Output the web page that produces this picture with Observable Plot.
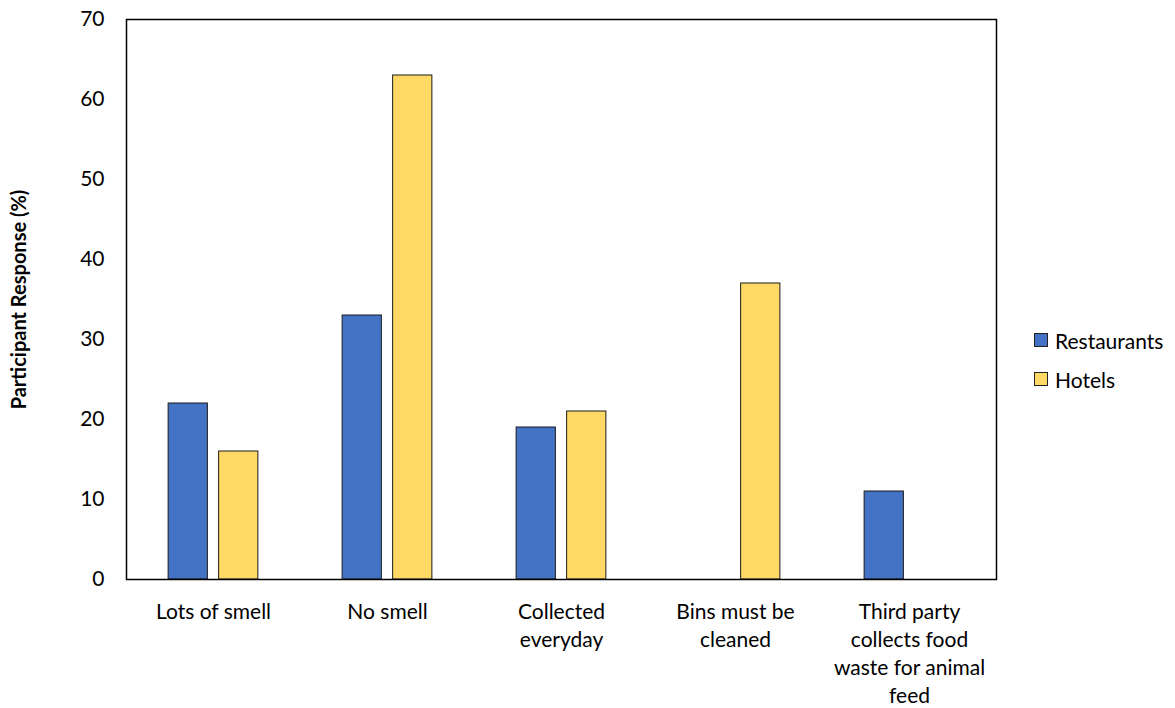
<!DOCTYPE html>
<html>
<head>
<meta charset="utf-8">
<script src="https://cdn.jsdelivr.net/npm/d3@7"></script>
<script src="https://cdn.jsdelivr.net/npm/@observablehq/plot@0.6"></script>
<style>
  html, body { margin: 0; padding: 0; background: #fff; }
  #wrap { position: relative; width: 1175px; height: 708px; font-family: Lato, "Liberation Sans", sans-serif; }
  #legend { position: absolute; left: 1034px; top: 326px; font-size: 21px; color: #000; }
  .item { display: flex; align-items: center; height: 28px; margin-bottom: 11px; }
  .sw { width: 12px; height: 12px; border: 1px solid #222; margin-right: 7px; }
</style>
</head>
<body>
<div id="wrap"><div id="legend"></div></div>
<script>
const categories = ["Lots of smell", "No smell", "Collected everyday", "Bins must be cleaned", "Third party collects food waste for animal feed"];
const tickLabels = ["Lots of smell", "No smell", "Collected\neveryday", "Bins must be\ncleaned", "Third party\ncollects food\nwaste for animal\nfeed"];
const series = ["Restaurants", "Hotels"];
const restaurants = [22, 33, 19, 0, 11];
const hotels = [16, 63, 21, 37, 0];
const colors = ["#4472C4", "#FFD966"];
const yTicks = [0, 10, 20, 30, 40, 50, 60, 70];
const yTitle = "Participant Response (%)";

const rows = categories.flatMap((c, i) => [
  {category: c, series: series[0], value: restaurants[i]},
  {category: c, series: series[1], value: hotels[i]}
]);

const chart = Plot.plot({
  width: 1175,
  height: 708,
  marginTop: 19,
  marginLeft: 124,
  marginRight: 177,
  marginBottom: 129,
  style: {fontFamily: "Lato, 'Liberation Sans', sans-serif", fontSize: "21px", color: "#000", background: "#fff"},
  fx: {domain: categories, padding: 0, label: null},
  x: {domain: series, paddingInner: 0.223, paddingOuter: 0.834, axis: null, round: false},
  y: {domain: [0, 70], label: null},
  color: {domain: series, range: colors},
  marks: [
    Plot.barY(rows, {fx: "category", x: "series", y: "value", fill: "series", stroke: "#1a1a1a", strokeWidth: 1, filter: d => d.value > 0}),
    Plot.frame({facet: "super", stroke: "#000", strokeWidth: 1.5}),
    Plot.axisY({ticks: yTicks, tickSize: 0, tickPadding: 22, label: null, fontSize: 21}),
    Plot.axisFx({anchor: "bottom", tickSize: 0, tickPadding: 20, label: null, fontSize: 21, lineHeight: 1.33,
      tickFormat: c => tickLabels[categories.indexOf(c)]}),
    Plot.text([yTitle], {facet: "super", frameAnchor: "left", textAnchor: "middle", rotate: -90, dx: -107, fontWeight: "bold", fontSize: 20})
  ]
});

const wrap = document.getElementById("wrap");
wrap.insertBefore(chart, wrap.firstChild);

const legend = document.getElementById("legend");
series.forEach((s, i) => {
  const item = document.createElement("div");
  item.className = "item";
  const sw = document.createElement("span");
  sw.className = "sw";
  sw.style.background = colors[i];
  const label = document.createElement("span");
  label.textContent = s;
  item.appendChild(sw);
  item.appendChild(label);
  legend.appendChild(item);
});
</script>
</body>
</html>
